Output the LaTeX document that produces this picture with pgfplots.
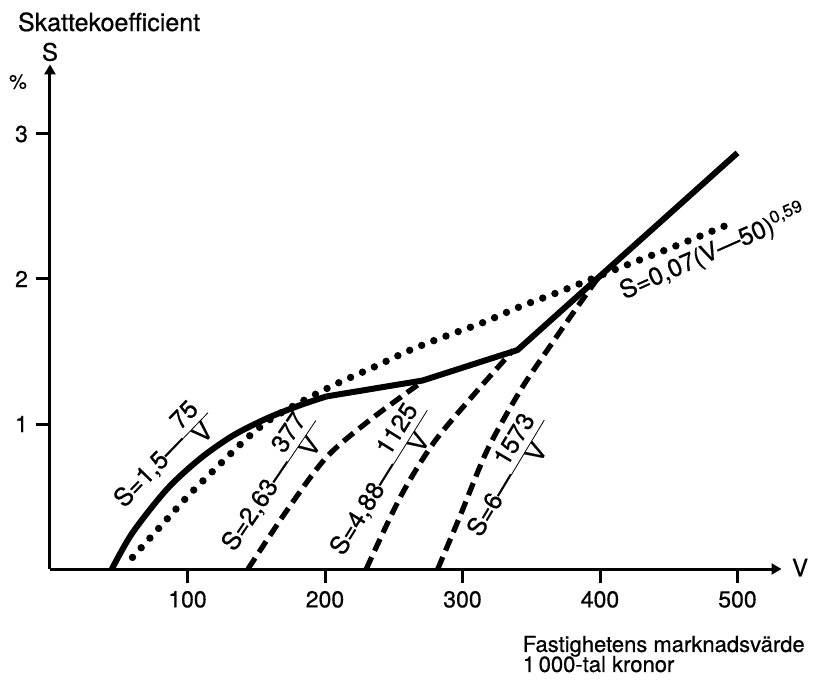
\documentclass[border=0pt]{standalone}
\usepackage{fontspec}
\setmainfont{TeX Gyre Heros}[FakeBold=0.6]
\usepackage{pgfplots}
\pgfplotsset{compat=1.18}
\usetikzlibrary{arrows.meta}
\newcommand{\fr}[2]{$\vcenter{\hbox{\setlength{\tabcolsep}{0pt}\renewcommand{\arraystretch}{0.85}\begin{tabular}{c}\,#1\,\\\hline #2\end{tabular}}}$}
\begin{document}
\fontsize{11.5}{13}\selectfont
\begin{tikzpicture}[font=\fontsize{11.5}{13}\selectfont]
\useasboundingbox (-25pt,-56pt) rectangle (382.5pt,284.5pt);
\begin{axis}[
  anchor=south west, at={(0pt,0pt)},
  x=0.6875pt, y=72.5pt,
  xmin=0, xmax=532, ymin=0, ymax=3.48,
  enlargelimits=false,
  axis lines=left,
  axis line style={line width=1.5pt, -{Triangle[length=5pt,width=5.5pt]}},
  xtick={100,200,300,400,500}, ytick={1,2,3},
  tick align=outside, major tick length=7pt,
  every tick/.style={black, line width=1.5pt},
  tick label style={font=\fontsize{11.5}{13}\selectfont},
  /pgf/number format/assume math mode=true,
  clip=false,
]
% solid: actual coefficient
\addplot[black, line width=3pt, smooth] coordinates {(45,0) (60,0.25) (85,0.55) (109,0.76) (133,0.92) (158,1.04) (182,1.13) (201,1.19)};
\addplot[black, line width=3pt, line join=round] coordinates {(201,1.19) (271,1.30) (340,1.51) (500,2.87)};
% dotted
\addplot[black, line width=3.7pt, line cap=round, dash pattern=on 0pt off 6.5pt, smooth] coordinates {(60,0.08) (80,0.29) (100,0.50) (119,0.68) (143,0.90) (160,1.03) (182,1.15) (209,1.28) (235,1.39) (262,1.51) (289,1.61) (315,1.70) (342,1.81) (370,1.91) (415,2.08) (453,2.22) (497,2.39)};
% dashed
\addplot[black, line width=2.6pt, dash pattern=on 6.5pt off 3.5pt, smooth] coordinates {(144,0) (172,0.40) (201,0.77) (233,1.03) (269,1.28)};
\addplot[black, line width=2.6pt, dash pattern=on 6.5pt off 3.5pt, smooth] coordinates {(230,0) (255,0.50) (279,0.87) (308,1.20) (337,1.51)};
\addplot[black, line width=2.6pt, dash pattern=on 6.5pt off 3.5pt, smooth] coordinates {(282,0) (298,0.36) (318,0.82) (342,1.23) (361,1.50) (380,1.76) (398,2.00)};
% labels
\begin{scope}[font=\fontsize{12.5}{14}\selectfont]
\node[rotate=46] at (axis cs:83,0.76) {S=1,5—\fr{75}{V}};
\node[rotate=56] at (axis cs:162,0.58) {S=2,63—\fr{377}{V}};
\node[rotate=58] at (axis cs:242,0.60) {S=4,88—\fr{1125}{V}};
\node[rotate=59] at (axis cs:334.5,0.63) {S=6—\fr{1573}{V}};
\node[rotate=24] at (axis cs:482.2,2.19) {S=0,07(V—50)\textsuperscript{0,59}};
\end{scope}
\node[anchor=base west, font=\fontsize{12.5}{14}\selectfont] at (axis cs:-29.1,3.71) {Skattekoefficient};
\node[font=\fontsize{12}{13}\selectfont] at (axis cs:0,3.566) {S};
\node[font=\fontsize{10}{12}\selectfont] at (axis cs:-23.3,3.36) {\%};
\node[font=\fontsize{12}{13}\selectfont] at (axis cs:545.5,0.01) {V};
\node[anchor=base west, font=\fontsize{11}{13}\selectfont] at (axis cs:338,-0.572) {Fastighetens marknadsvärde};
\node[anchor=base west, font=\fontsize{11}{13}\selectfont] at (axis cs:338,-0.710) {1\,000-tal kronor};
\end{axis}
\end{tikzpicture}
\end{document}
